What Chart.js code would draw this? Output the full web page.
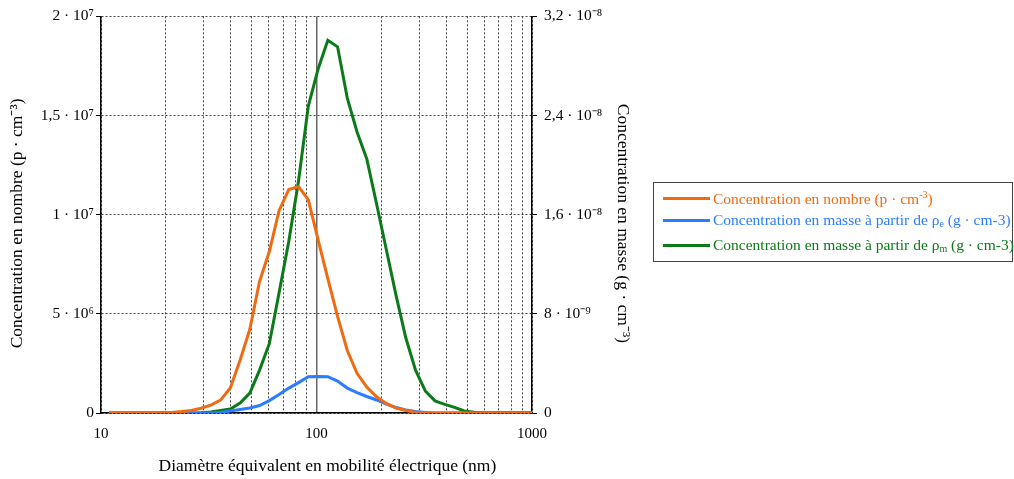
<!DOCTYPE html>
<html>
<head>
<meta charset="utf-8">
<script src="https://cdn.jsdelivr.net/npm/chart.js@4.4.0/dist/chart.umd.min.js"></script>
<style>
  html, body { margin: 0; padding: 0; background: #fff; }
  #wrap { position: relative; width: 1014px; height: 479px; }
  #legend {
    position: absolute; left: 653px; top: 182px; width: 358px; height: 78px;
    border: 1px solid #444; background: #fff;
    font-family: "Liberation Serif", serif; font-size: 15.5px;
  }
  .row { position: absolute; left: 9px; height: 18px; display: flex; align-items: center; white-space: nowrap; }
  .swatch { width: 47px; height: 3px; margin-right: 3px; }
  sup, sub { font-size: 10px; }
  sup { vertical-align: 6px; }
  sub { vertical-align: -2px; }
</style>
</head>
<body>
<div id="wrap">
  <canvas id="chart" width="1014" height="479"></canvas>
  <div id="legend"></div>
</div>
<script>
// diamètres (nm)
const diameters = [10.9, 12.66, 14.05, 15.59, 17.30, 19.20, 21.31, 23.65, 26.25, 29.13,
  32.33, 35.88, 39.81, 44.19, 49.04, 54.42, 60.40, 67.03, 74.39, 82.55,
  91.62, 101.67, 112.84, 125.23, 138.97, 154.23, 171.16, 189.95, 210.80, 233.94,
  259.62, 288.12, 319.74, 354.85, 393.80, 437.03, 485.02, 538.26, 597.35, 662.93,
  735.71, 816.48, 906.11, 1000];

// concentration en nombre (p·cm-3)
const nombre = [0, 0, 0, 0, 0, 1e4, 3e4, 7e4, 1.3e5, 2.4e5,
  4.0e5, 6.5e5, 1.26e6, 2.66e6, 4.22e6, 6.63e6, 8.14e6, 1.02e7, 1.127e7, 1.141e7,
  1.075e7, 8.74e6, 6.78e6, 4.87e6, 3.15e6, 2.0e6, 1.31e6, 8.2e5, 4.8e5, 2.5e5,
  1.3e5, 3e4, 1e4, 0, 0, 0, 0, 0, 0, 0,
  0, 0, 0, 0];

// concentration en masse, rho e (g·cm-3)
const masseRhoE = [0, 0, 0, 0, 0, 0, 0, 0, 0, 0,
  1e-11, 4e-11, 1.6e-10, 2.8e-10, 4.0e-10, 6.0e-10, 1.0e-9, 1.49e-9, 2.01e-9, 2.45e-9,
  2.93e-9, 2.95e-9, 2.93e-9, 2.57e-9, 2.01e-9, 1.65e-9, 1.33e-9, 1.05e-9, 7.2e-10, 4.4e-10,
  2.4e-10, 1.2e-10, 4e-11, 1e-11, 0, 0, 0, 0, 0, 0,
  0, 0, 0, 0];

// concentration en masse, rho m (g·cm-3)
const masseRhoM = [0, 0, 0, 0, 0, 0, 0, 0, 0, 2e-11,
  8e-11, 2.0e-10, 3.2e-10, 8.0e-10, 1.6e-9, 3.46e-9, 5.59e-9, 9.69e-9, 1.385e-8, 1.873e-8,
  2.476e-8, 2.773e-8, 3.006e-8, 2.954e-8, 2.54e-8, 2.267e-8, 2.05e-8, 1.688e-8, 1.319e-8, 9.49e-9,
  6.07e-9, 3.46e-9, 1.78e-9, 9.8e-10, 7.0e-10, 4.5e-10, 1.6e-10, 6e-11, 2e-11, 2e-11,
  2e-11, 2e-11, 2e-11, 2e-11];

// graduations
const xTickValues = [10, 20, 30, 40, 50, 60, 70, 80, 90, 100, 200, 300, 400, 500, 600, 700, 800, 900, 1000];
const xTickLabels = { 10: "10", 100: "100", 1000: "1000" };
const leftTickValues = [0, 5e6, 1e7, 1.5e7, 2e7];
const leftTickLabels = ["0", "5 · 10⁶", "1 · 10⁷", "1,5 · 10⁷", "2 · 10⁷"];
const rightTickValues = [0, 8e-9, 1.6e-8, 2.4e-8, 3.2e-8];
const rightTickLabels = ["0", "8 · 10⁻⁹", "1,6 · 10⁻⁸", "2,4 · 10⁻⁸", "3,2 · 10⁻⁸"];

const seriesColors = ["#f06a12", "#2b7cff", "#0b7a18"];
const seriesNames = [
  "Concentration en nombre (p · cm<sup>-3</sup>)",
  "Concentration en masse à partir de ρ<sub>e</sub> (g · cm-3)",
  "Concentration en masse à partir de ρ<sub>m</sub> (g · cm-3)"
];

// légende
const legendEl = document.getElementById("legend");
const rowTops = [6, 28, 53];
seriesNames.forEach((name, i) => {
  const row = document.createElement("div");
  row.className = "row";
  row.style.top = rowTops[i] + "px";
  row.style.color = seriesColors[i];
  row.innerHTML = '<div class="swatch" style="background:' + seriesColors[i] + '"></div><span>' + name + "</span>";
  legendEl.appendChild(row);
});

const serif = "'Liberation Serif', 'Times New Roman', serif";
Chart.defaults.font.family = serif;
Chart.defaults.color = "#000";

const pad = "\u00a0\u00a0\u00a0\u00a0";

function toPoints(ys) {
  return diameters.map((d, i) => ({ x: d, y: ys[i] }));
}

const ctx = document.getElementById("chart").getContext("2d");
new Chart(ctx, {
  type: "line",
  data: {
    datasets: [
      { label: "nombre", data: toPoints(nombre), yAxisID: "y", borderColor: seriesColors[0], borderWidth: 3, pointRadius: 0, tension: 0 },
      { label: "rho e", data: toPoints(masseRhoE), yAxisID: "y1", borderColor: seriesColors[1], borderWidth: 3, pointRadius: 0, tension: 0 },
      { label: "rho m", data: toPoints(masseRhoM), yAxisID: "y1", borderColor: seriesColors[2], borderWidth: 3, pointRadius: 0, tension: 0 },
    ],
  },
  options: {
    responsive: false,
    animation: false,
    devicePixelRatio: 1,
    layout: { padding: { left: 0, right: 372, top: 15, bottom: 0 } },
    plugins: { legend: { display: false }, tooltip: { enabled: false } },
    scales: {
      x: {
        type: "logarithmic",
        min: 10,
        max: 1000,
        afterFit: (s) => { s.height = 66; },
        afterBuildTicks: (s) => { s.ticks = xTickValues.map((v) => ({ value: v })); },
        ticks: {
          autoSkip: false, maxRotation: 0, padding: 12,
          font: { size: 15 },
          callback: (v) => xTickLabels[v] || "",
        },
        grid: {
          drawTicks: false,
          color: (c) => (c.tick && c.tick.value === 100 ? "#666" : "#444"),
          lineWidth: (c) => (c.tick && c.tick.value === 100 ? 1.5 : 1),
        },
        border: { color: "#000", width: 1.5, dash: (c) => (c.tick && c.tick.value === 100 ? [] : [2, 2]) },
        title: { display: true, text: pad + "\u00a0" + "Diamètre équivalent en mobilité électrique (nm)", font: { size: 17.5 }, padding: { bottom: 2 } },
      },
      y: {
        position: "left",
        min: 0,
        max: 2e7,
        afterFit: (s) => { s.width = 101; },
        afterBuildTicks: (s) => { s.ticks = leftTickValues.map((v) => ({ value: v })); },
        ticks: {
          padding: 2,
          font: { size: 15.5 },
          callback: (v, i) => leftTickLabels[i],
        },
        grid: { color: "#444", tickColor: "#000", tickLength: 5 },
        border: { color: "#000", width: 1.5, dash: [2, 2] },
        title: { display: true, text: "Concentration en nombre (p · cm⁻³)" + pad, font: { size: 17.5 }, padding: { top: 7 } },
      },
      y1: {
        position: "right",
        min: 0,
        max: 3.2e-8,
        afterFit: (s) => { s.width = 110; },
        afterBuildTicks: (s) => { s.ticks = rightTickValues.map((v) => ({ value: v })); },
        ticks: {
          padding: 7,
          font: { size: 15.5 },
          callback: (v, i) => rightTickLabels[i],
        },
        grid: { drawOnChartArea: false, tickColor: "#000", tickLength: 5 },
        border: { color: "#000", width: 1.5 },
        title: { display: true, text: pad + "Concentration en masse (g · cm⁻³)", font: { size: 17.5 }, padding: { top: 9 } },
      },
    },
  },
});
</script>
</body>
</html>
